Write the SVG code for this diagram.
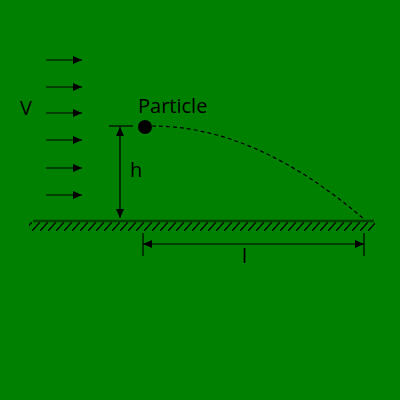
<svg xmlns="http://www.w3.org/2000/svg" width="400" height="400" viewBox="0 0 400 400">
<defs>
<marker id="ah" viewBox="0 0 10 10" refX="10" refY="5" markerWidth="9" markerHeight="8" markerUnits="userSpaceOnUse" orient="auto-start-reverse" preserveAspectRatio="none">
<path d="M0,0 L10,5 L0,10 z" fill="#000"/>
</marker>
<pattern id="hatch" x="0" y="222" width="8" height="9" patternUnits="userSpaceOnUse">
<line x1="0" y1="9" x2="8" y2="0" stroke="#000" stroke-width="1.2"/>
</pattern>
<style>
.t{font-family:"Open Sans","Noto Sans",sans-serif;font-size:20px;fill:#000}
.l{stroke:#000;stroke-width:1.2;fill:none}
.a{stroke:#000;stroke-width:1.2;fill:none;marker-end:url(#ah)}
.d{stroke:#000;stroke-width:1.2;fill:none;marker-end:url(#ah);marker-start:url(#ah)}
</style>
</defs>
<rect width="400" height="400" fill="#008000"/>
<g id="wind">
<line class="a" x1="46" y1="60" x2="82" y2="60"/>
<line class="a" x1="46" y1="87" x2="82" y2="87"/>
<line class="a" x1="46" y1="113" x2="82" y2="113"/>
<line class="a" x1="46" y1="140" x2="82" y2="140"/>
<line class="a" x1="46" y1="168" x2="82" y2="168"/>
<line class="a" x1="46" y1="195" x2="82" y2="195"/>
<text class="t" x="20" y="115">V</text>
</g>
<g id="ground">
<rect x="29" y="222" width="346" height="9" fill="url(#hatch)"/>
<line x1="33" y1="221" x2="374" y2="221" stroke="#004000" stroke-width="2.5"/>
</g>
<g id="particle">
<circle cx="145" cy="127" r="7" fill="#000"/>
<text class="t" x="138" y="113">Particle</text>
</g>
<g id="connectors">
<path d="M152,126 Q256,126 365,220" fill="none" stroke="#000" stroke-width="1.2" stroke-dasharray="4,3"/>
<line class="l" x1="109" y1="126" x2="133" y2="126"/>
<line class="d" x1="120" y1="127" x2="120" y2="218"/>
<line class="l" x1="143" y1="233" x2="143" y2="256"/>
<line class="l" x1="364" y1="233" x2="364" y2="256"/>
<line class="d" x1="143" y1="244" x2="364" y2="244"/>
</g>
<g id="labels">
<text class="t" x="130" y="177">h</text>
<text class="t" x="242" y="263">l</text>
</g>
</svg>
